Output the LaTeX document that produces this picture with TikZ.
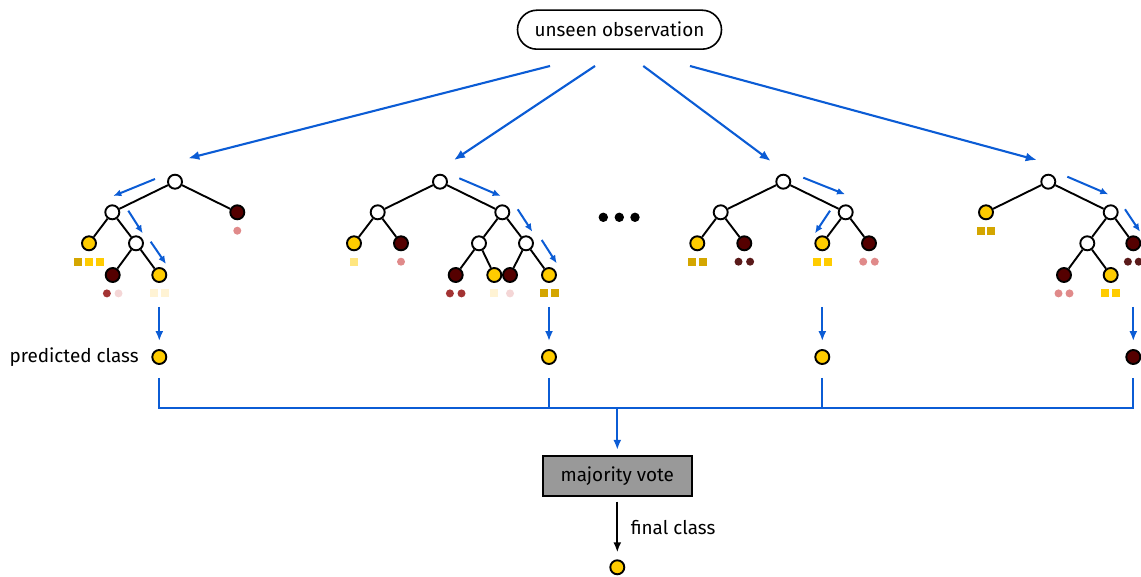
\documentclass[tikz,border=0pt]{standalone}
\usepackage{fontspec}
\setmainfont{Fira Sans}[UprightFont={* Regular}]
\usetikzlibrary{arrows.meta,calc,positioning}

\definecolor{ylw}{HTML}{FFCC00}
\definecolor{drk}{HTML}{550000}
\definecolor{route}{HTML}{0B5CD5}
\definecolor{sqd}{HTML}{D4A600}
\definecolor{sqy}{HTML}{FFCC00}
\definecolor{sql}{HTML}{FFE680}
\definecolor{sqv}{HTML}{FFF3D4}
\definecolor{dr}{HTML}{A33333}
\definecolor{dp}{HTML}{E08A8A}
\definecolor{dv}{HTML}{F4D6D6}
\definecolor{dk}{HTML}{5A1A1A}
\definecolor{votegray}{HTML}{999999}

% training samples that reached a leaf: squares and dots under it
\newcommand\squares[2]{\foreach \c/\dx in {#2}
  \fill[\c] ([xshift=\dx pt,yshift=-18.4pt]#1.center) ++(-4pt,-4pt) rectangle ++(8pt,8pt);}
\newcommand\pebbles[2]{\foreach \c/\dx in {#2}
  \fill[\c] ([xshift=\dx pt,yshift=-18.4pt]#1.center) circle[radius=4pt];}

\begin{document}
\begin{tikzpicture}[x=1pt,y=-1pt,
  split/.style={circle,draw,line width=1.9pt,fill=white,minimum size=14pt,inner sep=0pt},
  yleaf/.style={split,fill=ylw},
  dleaf/.style={split,fill=drk},
  edge/.style={line width=1.9pt},
  walk/.style={route,line width=2pt,-{Latex[length=8pt,width=7pt]}},
  feed/.style={route,line width=2.1pt,-{Latex[length=11pt,width=9pt]}},
  busline/.style={route,line width=2.1pt},
  obsbox/.style={draw,line width=1.6pt,rounded corners=19.5pt,minimum width=204pt,minimum height=39pt,inner sep=0pt},
  votebox/.style={draw,line width=1.6pt,fill=votegray,minimum width=149pt,minimum height=40pt,inner sep=0pt},
  label/.style={inner sep=0pt}]
\useasboundingbox (0,0) rectangle (1141,577);
\clip (0,0) rectangle (1141,577);
\fontsize{18.9pt}{22pt}\selectfont

% input
\node[obsbox] (obs) at (619.5,29.7) {unseen observation};

% tree 1
\node[split] (a0) at (175,181.7) {};
\node[split] (a1) at (112.3,212.3) {};
\node[dleaf] (a2) at (237.3,212.3) {};
\node[yleaf] (a3) at (89,243.3) {};
\node[split] (a4) at (136,243.3) {};
\node[dleaf] (a5) at (112.7,275) {};
\node[yleaf] (a6) at (159.3,275) {};
\draw[edge] (a0) -- (a1) (a0) -- (a2) (a1) -- (a3) (a1) -- (a4) (a4) -- (a5) (a4) -- (a6);
\squares{a3}{sqd/-11.3,sqy/0,sqy/11.3}
\pebbles{a2}{dp/0}
\pebbles{a5}{dr/-5.8,dv/5.8}
\squares{a6}{sqv/-5.4,sqv/5.4}
\draw[walk] (155,179) -- (113.3,196);
\draw[walk] (128.3,210.7) -- (142.7,233.3);
\draw[walk] (150.7,241.7) -- (166,264);

% tree 2
\node[split] (b0) at (440,181.7) {};
\node[split] (b1) at (377.7,212.3) {};
\node[split] (b2) at (502.3,212.3) {};
\node[yleaf] (b3) at (354,243.3) {};
\node[dleaf] (b4) at (401,243.3) {};
\node[split] (b5) at (479,243.3) {};
\node[split] (b6) at (526,243.3) {};
\node[dleaf] (b7) at (455.7,275) {};
\node[yleaf] (b8) at (494.3,275) {};
\node[dleaf] (b9) at (510,275) {};
\node[yleaf] (b10) at (549,275) {};
\draw[edge] (b0) -- (b1) (b0) -- (b2) (b1) -- (b3) (b1) -- (b4) (b2) -- (b5) (b2) -- (b6)
  (b5) -- (b7) (b5) -- (b8) (b6) -- (b9) (b6) -- (b10);
\squares{b3}{sql/0}
\pebbles{b4}{dp/0}
\pebbles{b7}{dr/-5.8,dr/5.8}
\squares{b8}{sqv/0}
\pebbles{b9}{dv/0}
\squares{b10}{sqd/-5.5,sqd/5.5}
\draw[walk] (459.3,178.3) -- (500.7,196);
\draw[walk] (517.7,209.3) -- (532.3,231.7);
\draw[walk] (541.7,240) -- (556.7,263.3);

% more trees
\foreach \x in {603.3,619.3,635} \fill (\x,217.3) circle[radius=4.7pt];

% tree 3
\node[split] (c0) at (783.3,181.7) {};
\node[split] (c1) at (720.7,212.3) {};
\node[split] (c2) at (845.7,212.3) {};
\node[yleaf] (c3) at (697.3,243.3) {};
\node[dleaf] (c4) at (744.3,243.3) {};
\node[yleaf] (c5) at (822.3,243.3) {};
\node[dleaf] (c6) at (869,243.3) {};
\draw[edge] (c0) -- (c1) (c0) -- (c2) (c1) -- (c3) (c1) -- (c4) (c2) -- (c5) (c2) -- (c6);
\squares{c3}{sqd/-5.4,sqd/5.4}
\pebbles{c4}{dk/-5.8,dk/5.8}
\squares{c5}{sqy/-5.8,sqy/5.8}
\pebbles{c6}{dp/-5.8,dp/5.8}
\draw[walk] (803.3,177.7) -- (845,194.3);
\draw[walk] (830,210.7) -- (815,233.3);

% tree 4
\node[split] (d0) at (1048.3,181.7) {};
\node[yleaf] (d1) at (986,212.3) {};
\node[split] (d2) at (1110.7,212.3) {};
\node[split] (d3) at (1087.3,243.3) {};
\node[dleaf] (d4) at (1133.3,243.3) {};
\node[dleaf] (d5) at (1064,275) {};
\node[yleaf] (d6) at (1110.7,275) {};
\draw[edge] (d0) -- (d1) (d0) -- (d2) (d2) -- (d3) (d2) -- (d4) (d3) -- (d5) (d3) -- (d6);
\squares{d1}{sqd/-5.2,sqd/5.2}
\pebbles{d4}{dk/-5.4,dk/5.4}
\pebbles{d5}{dp/-5.5,dp/5.5}
\squares{d6}{sqy/-5.7,sqy/5.7}
\draw[walk] (1067.3,176.7) -- (1108.3,194.3);
\draw[walk] (1125,209.3) -- (1140,231.7);

% observation handed to every tree
\draw[feed] ([xshift=-69.5pt,yshift=-16pt]obs.south) -- ([xshift=13.3pt,yshift=23.4pt]a0.center);
\draw[feed] ([xshift=-24.5pt,yshift=-16pt]obs.south) -- ([xshift=14pt,yshift=21.7pt]b0.center);
\draw[feed] ([xshift=23.8pt,yshift=-16pt]obs.south) -- ([xshift=-12.6pt,yshift=20.7pt]c0.center);
\draw[feed] ([xshift=70.5pt,yshift=-16pt]obs.south) -- ([xshift=-11.6pt,yshift=21.7pt]d0.center);

% predictions
\node[yleaf] (p1) at (159.3,357) {};
\node[yleaf] (p2) at (549,357) {};
\node[yleaf] (p3) at (822.3,357) {};
\node[dleaf] (p4) at (1133.3,357) {};
\node[label,left=12.5pt of p1] (pl) {predicted class};
\foreach \p in {p1,p2,p3,p4}
  \draw[feed,-{Latex[length=10pt,width=8pt]},shorten >=8pt] ([yshift=50pt]\p.center) -- (\p);

% collecting the votes
\coordinate (bus) at (617.3,408.3);
\draw[busline] ([yshift=-21pt]p1.center) -- (p1.center |- bus) -- (p4.center |- bus) -- ([yshift=-21pt]p4.center);
\draw[busline] ([yshift=-21pt]p2.center) -- (p2.center |- bus);
\draw[busline] ([yshift=-21pt]p3.center) -- (p3.center |- bus);
\node[votebox] (vote) at (617.3,475.7) {majority vote};
\draw[feed,-{Latex[length=10pt,width=8pt]},shorten >=5pt] (bus) -- (vote);

% result
\node[yleaf] (f) at (617.3,567.3) {};
\draw[line width=1.9pt,-{Latex[length=10pt,width=8pt]},shorten <=5pt,shorten >=7pt] (vote) -- (f)
  node[label,pos=0.5,anchor=west,xshift=12.5pt] (fl) {final class};
\end{tikzpicture}
\end{document}
